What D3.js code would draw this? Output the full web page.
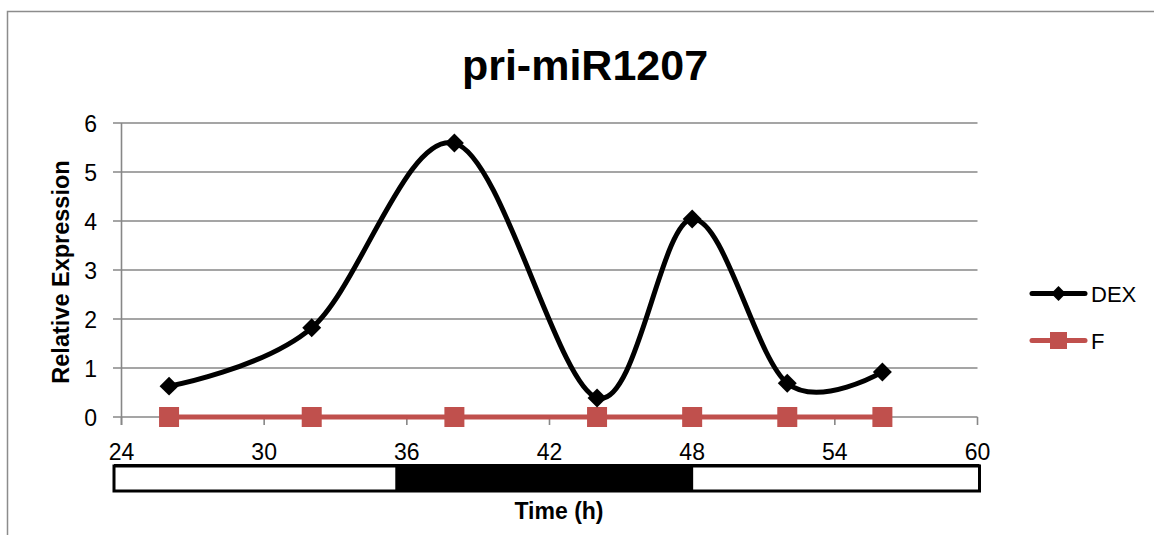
<!DOCTYPE html>
<html>
<head>
<meta charset="utf-8">
<script src="https://cdn.jsdelivr.net/npm/d3@7"></script>
<style>
  html, body { margin: 0; padding: 0; background: #fff; }
  svg { display: block; font-family: "Liberation Sans", Arial, sans-serif; }
</style>
</head>
<body>
<svg id="chart" width="1154" height="535"></svg>
<script>
// ---- data ----
const chartTitle = "pri-miR1207";
const yTitle = "Relative Expression";
const xTitle = "Time (h)";
const timePoints = [26, 32, 38, 44, 48, 52, 56];
const dexValues = [0.63, 1.82, 5.59, 0.39, 4.04, 0.69, 0.92];
const fValues = [0, 0, 0, 0, 0, 0, 0];
const seriesNames = ["DEX", "F"];
const xTicks = [24, 30, 36, 42, 48, 54, 60];
const yTicks = [0, 1, 2, 3, 4, 5, 6];
// light/dark bar segments (hours)
const barStarts = [24, 35.7, 48.1];
const barEnds = [35.7, 48.1, 60];
const barDark = [false, true, false];

// ---- layout ----
const svg = d3.select("#chart");
const colors = { DEX: "#000000", F: "#C0504D" };
const gridColor = "#878787";

const x = d3.scaleLinear().domain([24, 60]).range([121.5, 977.5]);
const y = d3.scaleLinear().domain([0, 6]).range([417, 123]);
const barX = d3.scaleLinear().domain([24, 60]).range([114, 979.5]);

// outer frame
svg.append("path")
  .attr("d", "M7.5,535 L7.5,11.5 L1154,11.5")
  .attr("fill", "none").attr("stroke", "#8c8c8c").attr("stroke-width", 1.5);

// title
svg.append("text").attr("x", 585).attr("y", 80)
  .attr("text-anchor", "middle").attr("font-weight", "bold")
  .attr("font-size", 43).attr("fill", "#000").text(chartTitle);

// gridlines + y ticks
const gy = svg.append("g");
gy.selectAll("line.grid").data(yTicks).join("line")
  .attr("class", "grid")
  .attr("x1", 113).attr("x2", x(60))
  .attr("y1", d => y(d)).attr("y2", d => y(d))
  .attr("stroke", gridColor).attr("stroke-width", 1.6);
gy.selectAll("text").data(yTicks).join("text")
  .attr("x", 97).attr("y", d => y(d) + 8.5)
  .attr("text-anchor", "end").attr("font-size", 23).attr("fill", "#000")
  .text(d => d);

// y axis line
svg.append("line").attr("x1", x(24)).attr("x2", x(24))
  .attr("y1", y(6)).attr("y2", y(0) + 8)
  .attr("stroke", gridColor).attr("stroke-width", 1.6);

// x ticks
const gx = svg.append("g");
gx.selectAll("line").data(xTicks).join("line")
  .attr("x1", d => x(d)).attr("x2", d => x(d))
  .attr("y1", y(0)).attr("y2", y(0) + 8)
  .attr("stroke", gridColor).attr("stroke-width", 1.6);
gx.selectAll("text").data(xTicks).join("text")
  .attr("x", d => x(d)).attr("y", 460)
  .attr("text-anchor", "middle").attr("font-size", 23).attr("fill", "#000")
  .text(d => d);

// y title
svg.append("text")
  .attr("transform", "translate(68.5,272) rotate(-90)")
  .attr("text-anchor", "middle").attr("font-weight", "bold")
  .attr("font-size", 23.5).attr("fill", "#000").text(yTitle);

// day/night bar
const bar = svg.append("g");
bar.selectAll("rect").data(barStarts.map((s, i) => ({ s, e: barEnds[i], dark: barDark[i] }))).join("rect")
  .attr("x", d => barX(d.s)).attr("width", d => barX(d.e) - barX(d.s))
  .attr("y", 465).attr("height", 26)
  .attr("fill", d => d.dark ? "#000" : "#fff");
bar.append("rect").attr("x", barX(24)).attr("y", 466)
  .attr("width", barX(60) - barX(24)).attr("height", 25)
  .attr("fill", "none").attr("stroke", "#000").attr("stroke-width", 3);
bar.append("line").attr("x1", barX(24)).attr("x2", barX(60)).attr("y1", 465.5).attr("y2", 465.5)
  .attr("stroke", "#000").attr("stroke-width", 3);

// x title
svg.append("text").attr("x", 559).attr("y", 519)
  .attr("text-anchor", "middle").attr("font-weight", "bold")
  .attr("font-size", 23).attr("fill", "#000").text(xTitle);

// series
const fData = timePoints.map((t, i) => ({ t, v: fValues[i] }));
const dexData = timePoints.map((t, i) => ({ t, v: dexValues[i] }));

const straight = d3.line().x(d => x(d.t)).y(d => y(d.v));
const smooth = d3.line().x(d => x(d.t)).y(d => y(d.v)).curve(d3.curveCardinal.tension(0));

// F series
svg.append("path").datum(fData).attr("d", straight)
  .attr("fill", "none").attr("stroke", colors.F).attr("stroke-width", 5);
svg.append("g").selectAll("rect").data(fData).join("rect")
  .attr("x", d => x(d.t) - 10).attr("y", d => y(d.v) - 10)
  .attr("width", 20).attr("height", 20).attr("fill", colors.F);

// DEX series
svg.append("path").datum(dexData).attr("d", smooth)
  .attr("fill", "none").attr("stroke", colors.DEX).attr("stroke-width", 5)
  .attr("stroke-linejoin", "round");
const diamond = d3.symbol().type(d3.symbolSquare).size(180);
svg.append("g").selectAll("path").data(dexData).join("path")
  .attr("transform", d => `translate(${x(d.t)},${y(d.v)}) rotate(45)`)
  .attr("d", diamond).attr("fill", colors.DEX);

// legend
const legendY = [293.5, 340.5];
const leg = svg.append("g");
seriesNames.forEach((name, i) => {
  const ly = legendY[i];
  leg.append("line").attr("x1", 1032).attr("x2", 1085).attr("y1", ly).attr("y2", ly)
    .attr("stroke", colors[name]).attr("stroke-width", 5).attr("stroke-linecap", "round");
  if (name === "DEX") {
    leg.append("path").attr("transform", `translate(1058.5,${ly}) rotate(45)`)
      .attr("d", d3.symbol().type(d3.symbolSquare).size(110)).attr("fill", colors[name]);
  } else {
    leg.append("rect").attr("x", 1050).attr("y", ly - 8.5).attr("width", 17).attr("height", 17)
      .attr("fill", colors[name]);
  }
  leg.append("text").attr("x", 1091).attr("y", ly + 8)
    .attr("font-size", 22).attr("fill", "#000").text(name);
});
</script>
</body>
</html>
